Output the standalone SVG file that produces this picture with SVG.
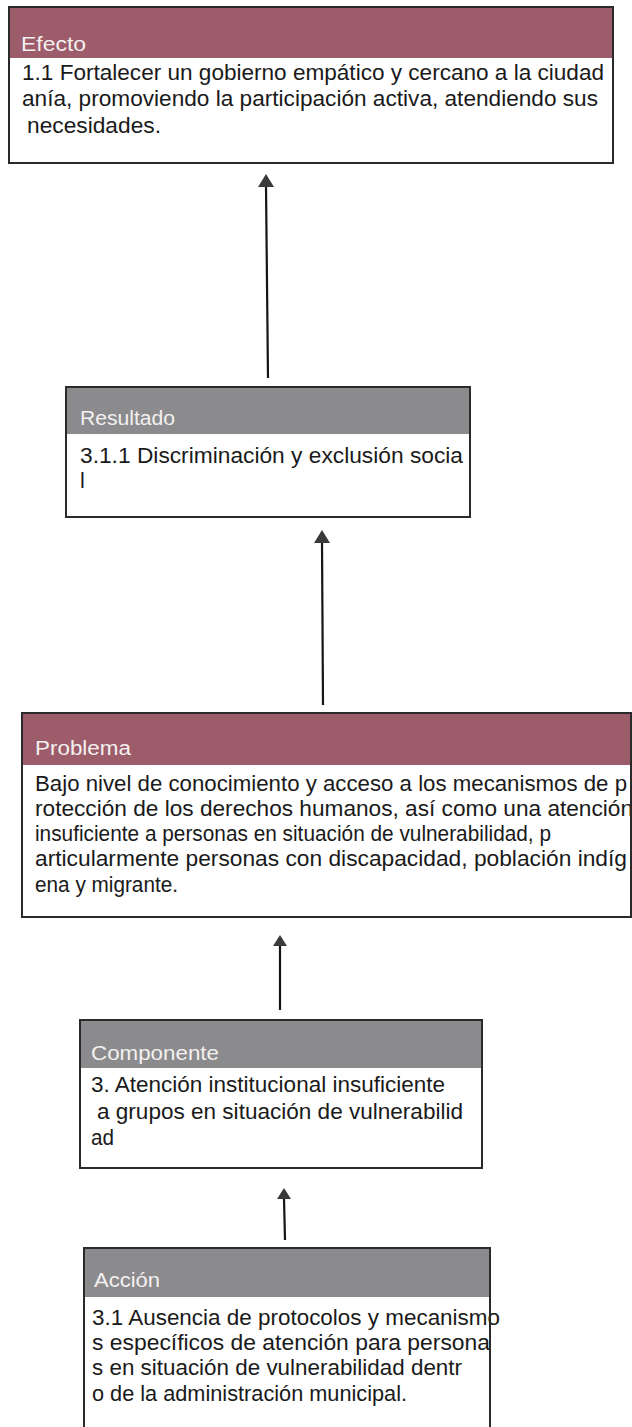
<svg xmlns="http://www.w3.org/2000/svg" width="632" height="1427" viewBox="0 0 632 1427">
<style>
.box{fill:#fff;stroke:#2a2a2a;stroke-width:2}
.hm{fill:#9d5c69}
.hg{fill:#8b8b8d}
.ht{font-family:"Liberation Sans",Arial,sans-serif;font-size:20px;fill:#f4f0f0}
.bt{font-family:"Liberation Sans",Arial,sans-serif;font-size:21.5px;fill:#1a1a1a}
.ln{stroke:#151515;stroke-width:2.2;fill:none}
.ah{fill:#3a3a3a}
</style>
<rect width="632" height="1427" fill="#fff"/>
<g id="connectors">
<line class="ln" x1="268" y1="378" x2="266" y2="186"/>
<path class="ah" d="M258,187 L266,174 L274,187 Z"/>
<line class="ln" x1="323" y1="705" x2="322" y2="542"/>
<path class="ah" d="M314,543 L322,530 L330,543 Z"/>
<line class="ln" x1="280" y1="1010" x2="280" y2="946"/>
<path class="ah" d="M273,946 L280,935 L287,946 Z"/>
<line class="ln" x1="285" y1="1240" x2="284" y2="1199"/>
<path class="ah" d="M277,1199 L284,1188 L291,1199 Z"/>
</g>
<g id="efecto">
<rect class="box" x="9" y="7" width="604" height="156"/>
<rect class="hm" x="10" y="8" width="602" height="50"/>
<text class="ht" x="21" y="51" textLength="65" lengthAdjust="spacingAndGlyphs">Efecto</text>
<text class="bt" x="22" y="80" textLength="582" lengthAdjust="spacingAndGlyphs">1.1 Fortalecer un gobierno empático y cercano a la ciudad</text>
<text class="bt" x="22" y="106" textLength="576" lengthAdjust="spacingAndGlyphs">anía, promoviendo la participación activa, atendiendo sus</text>
<text class="bt" x="27" y="133" textLength="134" lengthAdjust="spacingAndGlyphs">necesidades.</text>
</g>
<g id="resultado">
<rect class="box" x="66" y="387" width="404" height="130"/>
<rect class="hg" x="67" y="388" width="402" height="46"/>
<text class="ht" x="80" y="425" textLength="95" lengthAdjust="spacingAndGlyphs">Resultado</text>
<text class="bt" x="80" y="463" textLength="383" lengthAdjust="spacingAndGlyphs">3.1.1 Discriminación y exclusión socia</text>
<text class="bt" x="80" y="488">l</text>
</g>
<g id="problema">
<rect class="box" x="22" y="713" width="620" height="204"/>
<rect class="hm" x="23" y="714" width="618" height="51"/>
<text class="ht" x="35" y="755" textLength="96" lengthAdjust="spacingAndGlyphs">Problema</text>
<text class="bt" x="35" y="791" textLength="592" lengthAdjust="spacingAndGlyphs">Bajo nivel de conocimiento y acceso a los mecanismos de p</text>
<text class="bt" x="35" y="816" textLength="598" lengthAdjust="spacingAndGlyphs">rotección de los derechos humanos, así como una atención</text>
<text class="bt" x="35" y="841" textLength="516" lengthAdjust="spacingAndGlyphs">insuficiente a personas en situación de vulnerabilidad, p</text>
<text class="bt" x="35" y="866" textLength="592" lengthAdjust="spacingAndGlyphs">articularmente personas con discapacidad, población indíg</text>
<text class="bt" x="35" y="892" textLength="143" lengthAdjust="spacingAndGlyphs">ena y migrante.</text>
<line x1="631" y1="713" x2="631" y2="917" stroke="#2a2a2a" stroke-width="2"/>
</g>
<g id="componente">
<rect class="box" x="80" y="1020" width="402" height="148"/>
<rect class="hg" x="81" y="1021" width="400" height="47"/>
<text class="ht" x="91" y="1060" textLength="128" lengthAdjust="spacingAndGlyphs">Componente</text>
<text class="bt" x="91" y="1092" textLength="354" lengthAdjust="spacingAndGlyphs">3. Atención institucional insuficiente</text>
<text class="bt" x="97" y="1119" textLength="366" lengthAdjust="spacingAndGlyphs">a grupos en situación de vulnerabilid</text>
<text class="bt" x="91" y="1145" textLength="23" lengthAdjust="spacingAndGlyphs">ad</text>
</g>
<g id="accion">
<rect class="box" x="84" y="1248" width="406" height="190"/>
<rect class="hg" x="85" y="1249" width="404" height="48"/>
<text class="ht" x="94" y="1287" textLength="66" lengthAdjust="spacingAndGlyphs">Acción</text>
<text class="bt" x="92" y="1325" textLength="408" lengthAdjust="spacingAndGlyphs">3.1 Ausencia de protocolos y mecanismo</text>
<text class="bt" x="92" y="1350" textLength="398" lengthAdjust="spacingAndGlyphs">s específicos de atención para persona</text>
<text class="bt" x="92" y="1375" textLength="370" lengthAdjust="spacingAndGlyphs">s en situación de vulnerabilidad dentr</text>
<text class="bt" x="92" y="1401" textLength="315" lengthAdjust="spacingAndGlyphs">o de la administración municipal.</text>
<line x1="490" y1="1248" x2="490" y2="1427" stroke="#2a2a2a" stroke-width="2"/>
</g>
</svg>
